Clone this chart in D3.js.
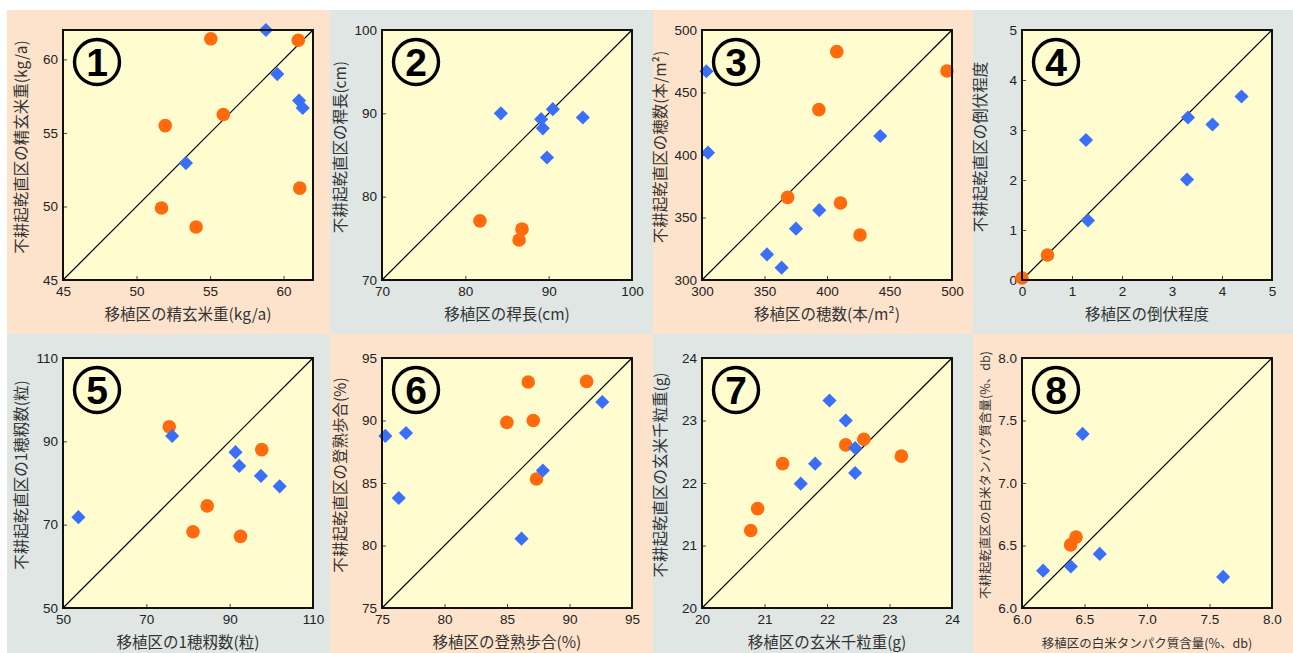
<!DOCTYPE html>
<html>
<head>
<meta charset="utf-8">
<script src="https://cdn.jsdelivr.net/npm/d3@7"></script>
<style>
  body { margin: 0; background: #fff; }
  svg { display: block; }
</style>
</head>
<body>
<div id="chart"></div>
<script>
// axis titles (x: 移植区, y: 不耕起乾直区)
const titlesX = ["移植区の精玄米重(kg/a)", "移植区の稈長(cm)", "移植区の穂数(本/m²)", "移植区の倒伏程度",
  "移植区の1穂籾数(粒)", "移植区の登熟歩合(%)", "移植区の玄米千粒重(g)", "移植区の白米タンパク質含量(%、db)"];
const titlesY = ["不耕起乾直区の精玄米重(kg/a)", "不耕起乾直区の稈長(cm)", "不耕起乾直区の穂数(本/m²)", "不耕起乾直区の倒伏程度",
  "不耕起乾直区の1穂籾数(粒)", "不耕起乾直区の登熟歩合(%)", "不耕起乾直区の玄米千粒重(g)", "不耕起乾直区の白米タンパク質含量(%、db)"];
const domains = [[45, 62], [70, 100], [300, 500], [0, 5], [50, 110], [75, 95], [20, 24], [6, 8]];
const tickValues = [
  [45, 50, 55, 60], [70, 80, 90, 100], [300, 350, 400, 450, 500], [0, 1, 2, 3, 4, 5],
  [50, 70, 90, 110], [75, 80, 85, 90, 95], [20, 21, 22, 23, 24], [6, 6.5, 7, 7.5, 8]
];

// orange circles, [移植区, 不耕起乾直区]
const orange1 = [[55.05, 61.4], [61.0, 61.3], [55.9, 56.25], [51.95, 55.5], [51.7, 49.9], [54.05, 48.6], [61.1, 51.25]];
const orange2 = [[81.75, 77.1], [86.8, 76.1], [86.45, 74.8]];
const orange3 = [[407.8, 482.7], [496, 467.2], [393.5, 436.3], [368.5, 366.1], [410.8, 361.6], [426.4, 336]];
const orange4 = [[0.51, 0.5], [0.0, 0.04]];
const orange5 = [[75.5, 93.5], [97.7, 88.0], [84.6, 74.5], [81.2, 68.3], [92.6, 67.2]];
const orange6 = [[86.7, 93.08], [91.37, 93.13], [84.99, 89.85], [87.1, 90.0], [87.36, 85.32]];
const orange7 = [[22.59, 22.7], [22.3, 22.61], [23.19, 22.43], [21.29, 22.31], [20.89, 21.59], [20.78, 21.24]];
const orange8 = [[6.389, 6.505], [6.432, 6.567]];

// blue diamonds
const blue1 = [[58.8, 62.0], [59.57, 59.0], [61.05, 57.2], [61.3, 56.7], [53.36, 52.95]];
const blue2 = [[84.26, 90.0], [90.5, 90.5], [89.1, 89.3], [89.3, 88.2], [94.1, 89.5], [89.8, 84.7]];
const blue3 = [[303.5, 467], [304.8, 401.9], [442.6, 415.2], [393.8, 355.9], [375.2, 341.1], [352, 320.5], [363.7, 309.9]];
const blue4 = [[4.39, 3.67], [3.32, 3.25], [3.81, 3.11], [1.28, 2.8], [3.3, 2.01], [1.32, 1.19]];
const blue5 = [[76.2, 91.3], [91.4, 87.4], [92.3, 84.1], [97.5, 81.7], [102.0, 79.2], [53.7, 71.8]];
const blue6 = [[92.62, 91.48], [75.27, 88.77], [76.92, 89.0], [76.34, 83.8], [87.87, 86.0], [86.16, 80.55]];
const blue7 = [[22.04, 23.32], [22.3, 23.0], [22.45, 22.56], [22.45, 22.16], [21.81, 22.31], [21.58, 21.99]];
const blue8 = [[6.485, 7.393], [6.169, 6.299], [6.391, 6.332], [6.622, 6.433], [7.609, 6.249]];

const oranges = [orange1, orange2, orange3, orange4, orange5, orange6, orange7, orange8];
const blues = [blue1, blue2, blue3, blue4, blue5, blue6, blue7, blue8];

const W = 1293, H = 653;
const peach = "#fde3cc", grey = "#dfe6e4", plotFill = "#fffdcf";
const orangeColor = "#ff6a0d", blueColor = "#3a6ff7";

// panel frames and plot origins
const panelX = [7, 330, 653, 973], panelW = [323, 323, 320, 320];
const panelY = [10, 334], panelH = [324, 319];
const plotX = [63, 382, 702, 1022], plotY = [30, 358];
const size = 250;

const svg = d3.select("#chart").append("svg")
  .attr("width", W).attr("height", H)
  .style("font-family", "'Liberation Sans Narrow', 'Liberation Sans', sans-serif");

const circled = ["1", "2", "3", "4", "5", "6", "7", "8"];

for (let i = 0; i < 8; i++) {
  const col = i % 4, row = Math.floor(i / 4);
  const isPeach = (col + row) % 2 === 0;

  svg.append("rect")
    .attr("x", panelX[col]).attr("y", panelY[row])
    .attr("width", panelW[col]).attr("height", panelH[row])
    .attr("fill", isPeach ? peach : grey);

  const g = svg.append("g").attr("transform", `translate(${plotX[col]},${plotY[row]})`);
  const x = d3.scaleLinear().domain(domains[i]).range([0, size]);
  const y = d3.scaleLinear().domain(domains[i]).range([size, 0]);
  const fmt = i === 7 ? d3.format(".1f") : d3.format("d");

  g.append("rect").attr("width", size).attr("height", size).attr("fill", plotFill);

  // 1:1 line
  g.append("line")
    .attr("x1", x(domains[i][0])).attr("y1", y(domains[i][0]))
    .attr("x2", x(domains[i][1])).attr("y2", y(domains[i][1]))
    .attr("stroke", "#000").attr("stroke-width", 1.2);

  // axes, ticks inward
  const xAxis = g.append("g").attr("transform", `translate(0,${size})`)
    .call(d3.axisBottom(x).tickValues(tickValues[i]).tickFormat(fmt).tickSize(-4).tickPadding(6));
  const yAxis = g.append("g")
    .call(d3.axisLeft(y).tickValues(tickValues[i]).tickFormat(fmt).tickSize(-4).tickPadding(5));
  [xAxis, yAxis].forEach(a => {
    a.select(".domain").remove();
    a.selectAll("line").attr("stroke", "#444");
    a.selectAll("text").attr("fill", "#222").style("font-size", "13.5px")
      .style("font-family", "'Liberation Sans Narrow', 'Liberation Sans', sans-serif");
  });

  // points
  g.selectAll(".dot").data(oranges[i]).enter().append("circle")
    .attr("cx", d => x(d[0])).attr("cy", d => y(d[1])).attr("r", 6.8)
    .attr("fill", orangeColor);
  g.selectAll(".dia").data(blues[i]).enter().append("path")
    .attr("d", d3.symbol().type(d3.symbolSquare).size(100))
    .attr("transform", d => `translate(${x(d[0])},${y(d[1])}) rotate(45)`)
    .attr("fill", blueColor);

  // frame
  g.append("rect").attr("width", size).attr("height", size)
    .attr("fill", "none").attr("stroke", "#111").attr("stroke-width", 2);

  // circled number
  const badge = g.append("g").attr("transform", "translate(34,32)");
  badge.append("circle").attr("r", 22.5).attr("fill", "none").attr("stroke", "#000").attr("stroke-width", 3.4);
  badge.append("text").text(circled[i])
    .attr("text-anchor", "middle").attr("dy", "0.36em")
    .style("font-family", "'Liberation Sans', Arial, sans-serif")
    .style("font-weight", 700).style("font-size", "39px");

  // axis titles
  const tSize = i === 7 ? 12.5 : 15.5;
  svg.append("text")
    .attr("x", plotX[col] + size / 2).attr("y", plotY[row] + size + 40)
    .attr("text-anchor", "middle").attr("fill", "#333")
    .style("font-family", "'Noto Sans CJK JP', sans-serif").style("font-size", tSize + "px")
    .text(titlesX[i]);
  svg.append("text")
    .attr("transform", `translate(${plotX[col] - (i === 7 ? 32 : 36)},${plotY[row] + size / 2 - 8}) rotate(-90)`)
    .attr("text-anchor", "middle").attr("fill", "#333")
    .style("font-family", "'Noto Sans CJK JP', sans-serif").style("font-size", tSize + "px")
    .text(titlesY[i]);
}
</script>
</body>
</html>
